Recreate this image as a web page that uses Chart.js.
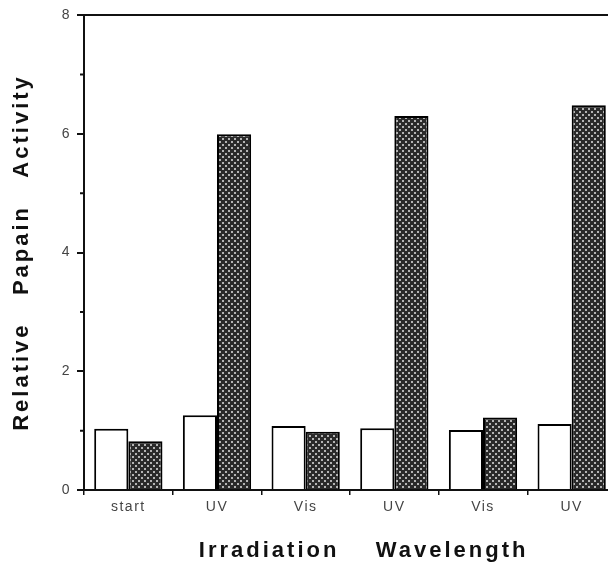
<!DOCTYPE html>
<html>
<head>
<meta charset="utf-8">
<script src="https://cdn.jsdelivr.net/npm/chart.js@4"></script>
<style>
  html, body { margin: 0; padding: 0; background: #fff; overflow: hidden; }
  #wrap { width: 620px; height: 563px; position: relative; }
</style>
</head>
<body>
<div id="wrap"><canvas id="chart"></canvas></div>
<script>
const categories = ['start', 'UV', 'Vis', 'UV', 'Vis', 'UV'];
const openValues = [1.03, 1.26, 1.08, 1.04, 1.01, 1.11];
const shadedValues = [0.82, 5.99, 0.98, 6.30, 1.22, 6.48];
const yMajorTicks = [0, 2, 4, 6, 8];
const yMinorTicks = [1, 3, 5, 7];

const fontFamily = '"Liberation Sans", Arial, Helvetica, sans-serif';

// stippled fill for the shaded bars
function makeStipple() {
  const tile = document.createElement('canvas');
  tile.width = 6;
  tile.height = 6;
  const t = tile.getContext('2d');
  t.fillStyle = '#2a2a2a';
  t.fillRect(0, 0, 6, 6);
  t.fillStyle = '#b4b4b4';
  t.fillRect(0, 0, 2, 2);
  t.fillRect(3, 3, 2, 2);
  return document.getElementById('chart').getContext('2d').createPattern(tile, 'repeat');
}

// letter spacing (wide for titles, narrow for ticks) + minor y ticks + frame
const extras = {
  id: 'extras',
  beforeDraw(chart) {
    const ctx = chart.ctx;
    ctx.letterSpacing = '1.5px';
    ['x', 'y'].forEach(id => {
      const s = chart.scales[id];
      if (!s._spaced) {
        const orig = s.drawTitle.bind(s);
        s.drawTitle = function () {
          ctx.letterSpacing = '3px';
          orig();
          ctx.letterSpacing = '1.5px';
        };
        s._spaced = true;
      }
    });
  },
  afterDraw(chart) {
    const ctx = chart.ctx;
    const area = chart.chartArea;
    const y = chart.scales.y;
    ctx.save();
    ctx.strokeStyle = '#111';
    ctx.lineWidth = 2;
    ctx.beginPath();
    yMinorTicks.forEach(v => {
      const py = y.getPixelForValue(v);
      ctx.moveTo(area.left - 4, py);
      ctx.lineTo(area.left, py);
    });
    ctx.moveTo(area.left - 7, area.top);
    ctx.lineTo(area.right, area.top);
    ctx.lineTo(area.right, area.bottom);
    ctx.stroke();
    ctx.restore();
  }
};

new Chart(document.getElementById('chart'), {
  type: 'bar',
  data: {
    labels: categories,
    datasets: [{
      data: openValues,
      backgroundColor: '#ffffff',
      borderColor: '#000',
      borderWidth: 2,
      borderSkipped: 'start'
    }, {
      data: shadedValues,
      backgroundColor: makeStipple(),
      borderColor: '#000',
      borderWidth: 2,
      borderSkipped: 'start'
    }]
  },
  options: {
    responsive: true,
    maintainAspectRatio: false,
    animation: false,
    datasets: {
      bar: {
        categoryPercentage: 0.77,
        barPercentage: 1.0
      }
    },
    layout: {
      padding: { left: 5, top: 15, right: 4, bottom: 0 }
    },
    plugins: {
      legend: { display: false },
      tooltip: { enabled: false }
    },
    scales: {
      x: {
        offset: true,
        grid: {
          offset: true,
          drawOnChartArea: false,
          color: '#111',
          lineWidth: 1.5,
          tickLength: 5
        },
        border: { display: true, color: '#111', width: 2 },
        ticks: {
          color: '#444',
          padding: 4,
          font: { family: fontFamily, size: 14 }
        },
        title: {
          display: true,
          text: '   Irradiation    Wavelength',
          color: '#111',
          font: { family: fontFamily, size: 22, weight: 'bold', lineHeight: 0.7 }
        },
        afterFit(scale) { scale.height = 73; }
      },
      y: {
        min: 0,
        max: 8,
        afterBuildTicks(scale) {
          scale.ticks = yMajorTicks.map(v => ({ value: v }));
        },
        grid: {
          drawOnChartArea: false,
          color: '#111',
          lineWidth: 2,
          tickLength: 7
        },
        border: { display: true, color: '#111', width: 2 },
        ticks: {
          color: '#444',
          padding: 6,
          font: { family: fontFamily, size: 14 }
        },
        title: {
          display: true,
          text: 'Relative   Papain   Activity',
          color: '#111',
          font: { family: fontFamily, size: 22, weight: 'bold' }
        },
        afterFit(scale) { scale.width = 79; }
      }
    }
  },
  plugins: [extras]
});
</script>
</body>
</html>
